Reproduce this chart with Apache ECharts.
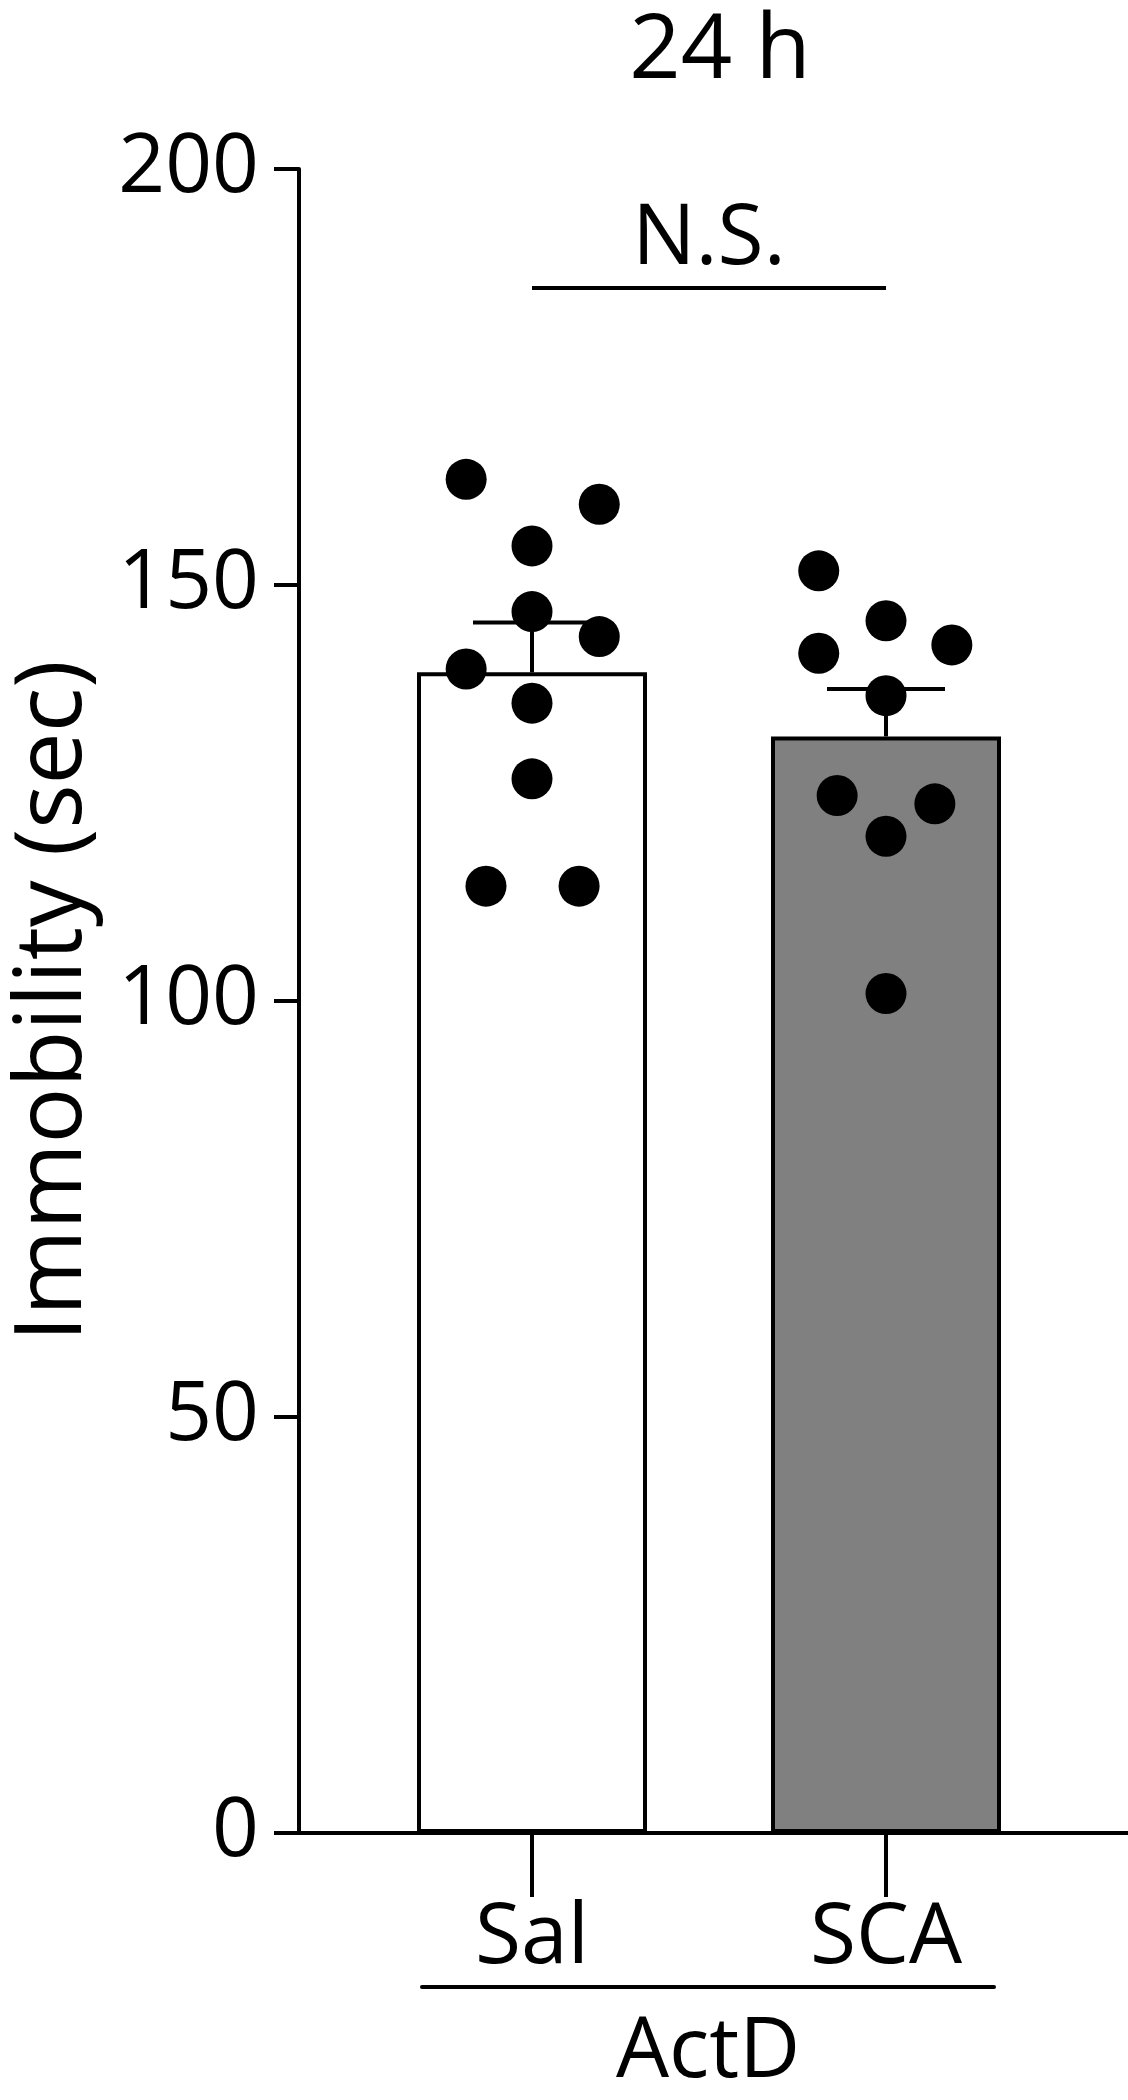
<!DOCTYPE html>
<html>
<head>
<meta charset="utf-8">
<script src="https://cdn.jsdelivr.net/npm/echarts@6/dist/echarts.min.js"></script>
<style>
  html, body { margin: 0; padding: 0; background: #fff; }
  #chart { width: 1128px; height: 2100px; }
</style>
</head>
<body>
<div id="chart"></div>
<script>
// ---- data ----
const categories = ['Sal', 'SCA'];
const barMeans = [139.5, 131.8];
const barSem = [6.0, 5.7];
const salValues = [162.7, 159.7, 154.7, 146.8, 143.8, 139.9, 135.8, 126.7, 113.8, 113.8];
const salJitter = [-0.186, 0.19, 0, 0, 0.19, -0.186, 0, 0, -0.13, 0.133];
const scaValues = [151.7, 145.7, 142.8, 141.8, 136.7, 124.7, 123.7, 119.8, 100.9];
const scaJitter = [-0.19, 0, 0.186, -0.19, 0, -0.138, 0.138, 0, 0];
const yTicks = [0, 50, 100, 150, 200];
const sigLevel = 185.7;
const sigText = 'N.S.';
const titleText = '24 h';
const yName = 'Immobility (sec)';
const groupName = 'ActD';
const barColors = ['#ffffff', '#808080'];

const FONT = 'Open Sans';
const INK = '#000000';

const chart = echarts.init(document.getElementById('chart'), null, { renderer: 'canvas' });

const scatterSal = salValues.map((v, i) => [0 + salJitter[i], v]);
const scatterSca = scaValues.map((v, i) => [1 + scaJitter[i], v]);

const option = {
  backgroundColor: '#ffffff',
  animation: false,
  title: {
    text: titleText,
    left: 715,
    top: 2,
    textAlign: 'center',
    textStyle: { fontFamily: FONT, fontSize: 90, fontWeight: 'normal', color: INK }
  },
  grid: [
    { left: 295, right: 0, top: 169, bottom: 267 },
    { left: 355, width: 708, top: 169, bottom: 267 },
    { left: 422, width: 572, top: 169, bottom: 96 }
  ],
  xAxis: [
    { gridIndex: 0, type: 'value', min: 0, max: 1,
      axisLine: { show: true, onZero: false, lineStyle: { color: INK, width: 4 } },
      axisTick: { show: false }, axisLabel: { show: false }, splitLine: { show: false } },
    { gridIndex: 1, type: 'category', data: categories,
      axisLine: { show: false },
      axisTick: { show: true, alignWithLabel: true, length: 64, lineStyle: { color: INK, width: 4 } },
      axisLabel: { margin: 64, fontFamily: FONT, fontSize: 84, color: INK },
      splitLine: { show: false } },
    { gridIndex: 1, type: 'value', min: -0.5, max: 1.5, show: false },
    { gridIndex: 2, type: 'value', min: 0, max: 1,
      axisLine: { show: true, onZero: false, lineStyle: { color: INK, width: 4 } },
      axisTick: { show: false }, axisLabel: { show: false }, splitLine: { show: false },
      name: groupName, nameLocation: 'middle', nameGap: 24,
      nameTextStyle: { fontFamily: FONT, fontSize: 84, color: INK, verticalAlign: 'top' } }
  ],
  yAxis: [
    { gridIndex: 0, type: 'value', min: 0, max: 200, interval: 50,
      axisLine: { show: true, lineStyle: { color: INK, width: 4 } },
      axisTick: { show: true, length: 25, lineStyle: { color: INK, width: 4 } },
      axisLabel: { margin: 40, fontFamily: FONT, fontSize: 82, color: INK,
        customValues: yTicks },
      splitLine: { show: false },
      name: yName, nameLocation: 'middle', nameRotate: 90, nameGap: 198,
      nameTextStyle: { fontFamily: FONT, fontSize: 93, color: INK } },
    { gridIndex: 1, type: 'value', min: 0, max: 200, show: false },
    { gridIndex: 2, type: 'value', min: 0, max: 1, show: false }
  ],
  series: [
    {
      type: 'bar', xAxisIndex: 1, yAxisIndex: 1, barWidth: 230, z: 2,
      data: barMeans.map((v, i) => ({
        value: v,
        itemStyle: { color: barColors[i], borderColor: INK, borderWidth: 4 }
      }))
    },
    {
      type: 'custom', xAxisIndex: 1, yAxisIndex: 1, z: 3,
      data: barMeans.map((v, i) => [i, v, v + barSem[i]]),
      renderItem: function (params, api) {
        const base = api.coord([api.value(0), api.value(1)]);
        const top = api.coord([api.value(0), api.value(2)]);
        const half = 59;
        return {
          type: 'group',
          children: [
            { type: 'line', shape: { x1: base[0], y1: base[1], x2: top[0], y2: top[1] },
              style: { stroke: INK, lineWidth: 4 } },
            { type: 'line', shape: { x1: top[0] - half, y1: top[1], x2: top[0] + half, y2: top[1] },
              style: { stroke: INK, lineWidth: 4 } }
          ]
        };
      }
    },
    {
      type: 'scatter', xAxisIndex: 2, yAxisIndex: 1, z: 4,
      symbol: 'circle', symbolSize: 41,
      itemStyle: { color: '#000000', opacity: 1 },
      data: scatterSal,
      markLine: {
        silent: true, symbol: 'none',
        lineStyle: { color: INK, width: 4, type: 'solid', opacity: 1 },
        label: { show: true, formatter: sigText, position: 'insideMiddleTop', distance: 6,
          fontFamily: FONT, fontSize: 84, color: INK },
        data: [[{ coord: [0, sigLevel] }, { coord: [1, sigLevel] }]]
      }
    },
    {
      type: 'scatter', xAxisIndex: 2, yAxisIndex: 1, z: 4,
      symbol: 'circle', symbolSize: 41,
      itemStyle: { color: '#000000', opacity: 1 },
      data: scatterSca
    }
  ]
};

chart.setOption(option);
</script>
</body>
</html>
